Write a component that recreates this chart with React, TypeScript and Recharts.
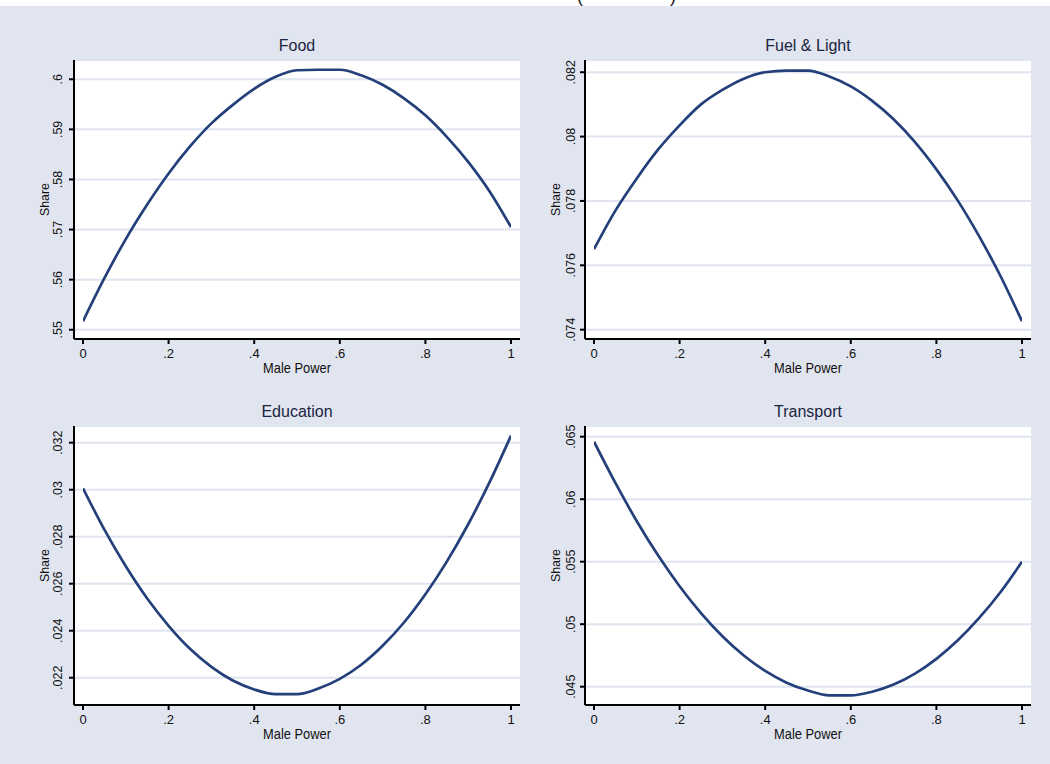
import React from 'react';
import { LineChart, Line, XAxis, YAxis, CartesianGrid } from 'recharts';

const FONT = '"Liberation Sans", Arial, Helvetica, sans-serif';
const BG = '#e1e5f0';
const GRID = '#dfe4ee';
const LINE = '#24407a';

// Male power (x values)
const maleX = [0, 0.05, 0.1, 0.15, 0.2, 0.25, 0.3, 0.35, 0.4, 0.45, 0.5, 0.55, 0.6, 0.65, 0.7, 0.75, 0.8, 0.85, 0.9, 0.95, 1];

// Budget shares
const foodShare = [0.5517, 0.5603, 0.5681, 0.575, 0.5812, 0.5866, 0.5912, 0.5949, 0.5981, 0.6005, 0.6018, 0.6019, 0.6019, 0.6008, 0.5989, 0.5962, 0.5928, 0.5885, 0.5835, 0.5776, 0.5705];
const fuelShare = [0.0765, 0.0777, 0.0787, 0.0796, 0.08035, 0.081, 0.08145, 0.0818, 0.082, 0.08205, 0.08205, 0.08187, 0.08156, 0.08111, 0.08054, 0.07983, 0.07898, 0.07801, 0.0769, 0.07566, 0.07426];
const eduShare = [0.03006, 0.0283, 0.02674, 0.02537, 0.02421, 0.02323, 0.02246, 0.02188, 0.0215, 0.0213, 0.0213, 0.02154, 0.02195, 0.02255, 0.02336, 0.02435, 0.02555, 0.02694, 0.02853, 0.03032, 0.0323];
const transShare = [0.0646, 0.0613, 0.05824, 0.05549, 0.05304, 0.05089, 0.04904, 0.0475, 0.04626, 0.04532, 0.04469, 0.0443, 0.0443, 0.0446, 0.04517, 0.04605, 0.04723, 0.04871, 0.0505, 0.05258, 0.055];

// Tick labels
const xTicks = [0, 0.2, 0.4, 0.6, 0.8, 1];
const foodTicks = [0.55, 0.56, 0.57, 0.58, 0.59, 0.6];
const fuelTicks = [0.074, 0.076, 0.078, 0.08, 0.082];
const eduTicks = [0.022, 0.024, 0.026, 0.028, 0.03, 0.032];
const transTicks = [0.045, 0.05, 0.055, 0.06, 0.065];

const panelTitles = ['Food', 'Fuel & Light', 'Education', 'Transport'];
const xTitle = 'Male Power';
const yTitle = 'Share';

const fmt = (v: number) => {
  const s = String(Number(v.toFixed(4)));
  return s.replace(/^0\./, '.').replace(/^-0\./, '-.');
};

const PW = 446;
const PH = 279;
const ML = 74;
const MT = 40;

type PanelProps = {
  left: number;
  top: number;
  values: number[];
  domain: [number, number];
  ticks: number[];
  labOff: number;
};

function Panel({ left, top, values, domain, ticks, labOff }: PanelProps) {
  const rows = maleX.map((x, i) => ({ x, y: values[i] }));
  const YTick = (props: any) => {
    const { y, payload } = props;
    return (
      <text
        transform={`translate(${ML - labOff}, ${y}) rotate(-90)`}
        textAnchor="middle"
        dy="0.36em"
        fontSize={12.5}
        fill="#111"
        fontFamily={FONT}
      >
        {fmt(payload.value)}
      </text>
    );
  };
  return (
    <div style={{ position: 'absolute', left, top, width: ML + PW + 10, height: MT + PH + 45 }}>
      <LineChart
        width={ML + PW + 10}
        height={MT + PH + 45}
        data={rows}
        margin={{ top: MT, right: 10, bottom: 0, left: 0 }}
      >
        <CartesianGrid vertical={false} horizontal={true} fill="#ffffff" stroke={GRID} strokeWidth={2} />
        <XAxis
          dataKey="x"
          type="number"
          domain={[0, 1]}
          ticks={xTicks}
          interval={0}
          allowDataOverflow
          padding={{ left: 9, right: 9 }}
          height={45}
          tickSize={5}
          tickMargin={5}
          axisLine={{ stroke: '#000', strokeWidth: 2 }}
          tickLine={{ stroke: '#000', strokeWidth: 2 }}
          tick={{ fontSize: 13, fill: '#111', fontFamily: FONT }}
          tickFormatter={fmt}
        />
        <YAxis
          type="number"
          domain={domain}
          ticks={ticks}
          interval={0}
          allowDataOverflow
          width={ML}
          tickSize={5}
          axisLine={{ stroke: '#000', strokeWidth: 2 }}
          tickLine={{ stroke: '#000', strokeWidth: 2 }}
          tick={YTick}
        />
        <Line
          dataKey="y"
          type="monotone"
          stroke={LINE}
          strokeWidth={2.7}
          dot={false}
          isAnimationActive={false}
        />
      </LineChart>
    </div>
  );
}

export default function App() {
  const plots = [
    { px: 74, py: 60, values: foodShare, domain: [0.54815, 0.60385] as [number, number], ticks: foodTicks, labOff: 16.5 },
    { px: 585, py: 60, values: fuelShare, domain: [0.07371, 0.08238] as [number, number], ticks: fuelTicks, labOff: 14.5 },
    { px: 74, py: 426, values: eduShare, domain: [0.02084, 0.03271] as [number, number], ticks: eduTicks, labOff: 16.5 },
    { px: 585, py: 426, values: transShare, domain: [0.043536, 0.065856] as [number, number], ticks: transTicks, labOff: 14.5 },
  ];
  return (
    <div style={{ position: 'absolute', left: 0, top: 0, width: 1050, height: 764, background: '#fff', overflow: 'hidden' }}>
      <div style={{ position: 'absolute', left: 0, top: 6, width: 1050, height: 758, background: BG }} />
      {plots.map((p, i) => (
        <Panel
          key={i}
          left={p.px - ML}
          top={p.py - MT}
          values={p.values}
          domain={p.domain}
          ticks={p.ticks}
          labOff={p.labOff}
        />
      ))}
      <svg width={1050} height={764} style={{ position: 'absolute', left: 0, top: 0, pointerEvents: 'none' }}>
        <defs>
          <clipPath id="topclip">
            <rect x={0} y={0} width={1050} height={6} />
          </clipPath>
        </defs>
        <g clipPath="url(#topclip)" fontFamily={FONT} fontSize={18} fill="#222">
          <text x={577} y={1.5}>(</text>
          <text x={670} y={1.5}>)</text>
        </g>
        {plots.map((p, i) => {
          const cx = p.px + PW / 2;
          const cy = p.py + PH / 2;
          const ax = p.px;
          return (
            <g key={i} fontFamily={FONT}>
              <text x={cx} y={p.py - 9} textAnchor="middle" fontSize={16} fill="#1a2440">
                {panelTitles[i]}
              </text>
              <text
                x={cx}
                y={p.py + PH + 34}
                textAnchor="middle"
                fontSize={14.5}
                fill="#111"
                textLength={68}
                lengthAdjust="spacingAndGlyphs"
              >
                {xTitle}
              </text>
              <text
                transform={`translate(${ax - 29.5}, ${cy}) rotate(-90)`}
                textAnchor="middle"
                dy="0.36em"
                fontSize={13.5}
                fill="#111"
                textLength={33}
                lengthAdjust="spacingAndGlyphs"
              >
                {yTitle}
              </text>
            </g>
          );
        })}
      </svg>
    </div>
  );
}
